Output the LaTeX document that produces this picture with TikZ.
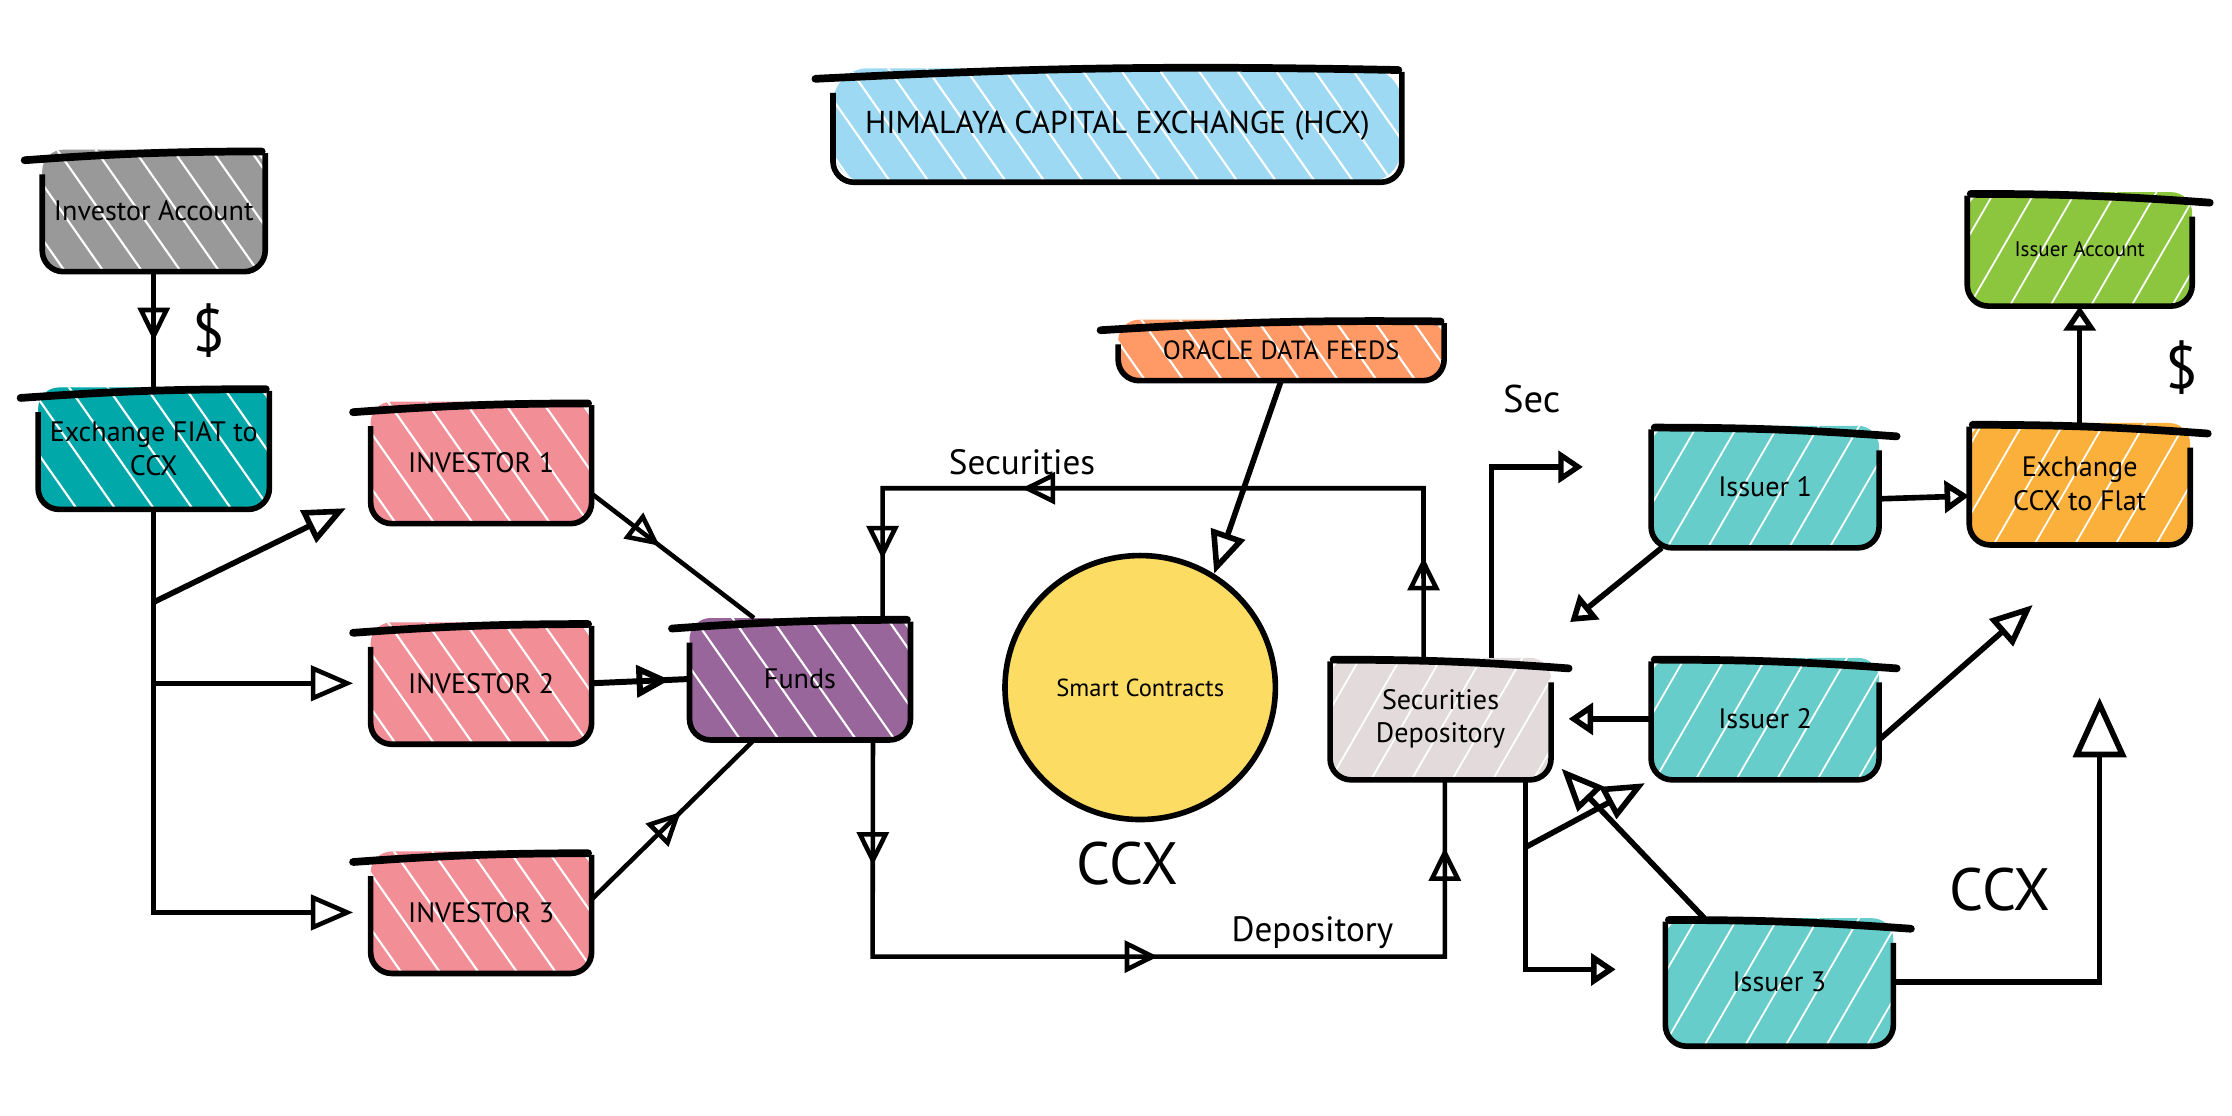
\documentclass[tikz,border=0pt]{standalone}
\usepackage{fontspec}
\setmainfont{PT Sans}
\usetikzlibrary{arrows.meta,decorations.markings,shapes.geometric,patterns.meta}

\definecolor{hcxblue}{HTML}{9DD9F3}
\definecolor{acctgray}{HTML}{999999}
\definecolor{fiatteal}{HTML}{00A8AA}
\definecolor{invpink}{HTML}{F28E96}
\definecolor{fundpurple}{HTML}{98669A}
\definecolor{smartyellow}{HTML}{FCDC63}
\definecolor{oracleorange}{HTML}{FF9A66}
\definecolor{depgray}{HTML}{E3DBDB}
\definecolor{issuerteal}{HTML}{66CDCB}
\definecolor{acctgreen}{HTML}{8CC63F}
\definecolor{ccxorange}{HTML}{FBB03B}

\tikzset{
  tipS/.tip={Triangle[open,length=7pt,width=9pt]},
  tipM/.tip={Triangle[open,length=9.5pt,width=9pt]},
  tipL/.tip={Triangle[open,length=12pt,width=10pt]},
  tipXL/.tip={Triangle[open,length=17pt,width=15pt]},
  boxbase/.style={line width=1.6pt, outer sep=0pt, rounded corners=6pt, minimum width=2.21cm,
    minimum height=1.22cm, align=center, font=\fontsize{8}{9.6}\selectfont},
  boxL/.style={boxbase, preaction={fill=#1},
    preaction={pattern={Lines[angle=-55,distance=9pt,line width=.6pt]}, pattern color=white}},
  boxR/.style={boxbase, preaction={fill=#1},
    preaction={pattern={Lines[angle=60,distance=10pt,line width=.5pt]}, pattern color=white}},
  rim/.style={line width=1.6pt, rounded corners=6pt},
  lid/.style={line width=2.2pt, line cap=round},
  lbl/.style={font=\fontsize{10}{12}\selectfont},
  biglbl/.style={font=\fontsize{17}{20}\selectfont},
  flow/.style={line width=1.3pt},
  midtri/.style={postaction={decorate,decoration={markings,mark=at position #1 with {\arrow{tipM}}}}},
}

\begin{document}
\begin{tikzpicture}[x=0.014235cm,y=-0.014235cm]
\useasboundingbox (0,0) rectangle (1568,784);

% boxes
\node[boxL=hcxblue, minimum width=5.69cm, minimum height=1.14cm, rounded corners=10pt,
  font=\fontsize{9}{11}\selectfont] (title) at (785,88) {HIMALAYA CAPITAL EXCHANGE (HCX)};
\node[boxL=acctgray] (invacct) at (108,148) {Investor Account};
\node[boxL=fiatteal] (fiat) at (108,315) {Exchange FIAT to\\CCX};
\node[boxL=invpink] (inv1) at (338,325) {INVESTOR 1};
\node[boxL=invpink] (inv2) at (338,480) {INVESTOR 2};
\node[boxL=invpink] (inv3) at (338,641) {INVESTOR 3};
\node[boxL=fundpurple] (funds) at (562,477) {Funds};
\node[draw, ellipse, line width=1.6pt, fill=smartyellow, minimum width=2.4cm, minimum height=2.64cm,
  font=\fontsize{7}{8}\selectfont] (smart) at (801,483) {Smart Contracts};
\node[boxL=oracleorange, minimum width=3.26cm, minimum height=0.61cm,
  font=\fontsize{7.5}{9}\selectfont] (oracle) at (900,246) {ORACLE DATA FEEDS};
\node[boxR=depgray] (secdep) at (1012,505) {Securities\\Depository};
\node[boxR=acctgreen, minimum width=2.25cm, minimum height=1.14cm,
  font=\fontsize{6}{7}\selectfont] (issacct) at (1461,175) {Issuer Account};
\node[boxR=issuerteal, minimum width=2.28cm] (iss1) at (1240,342) {Issuer 1};
\node[boxR=ccxorange] (ccxflat) at (1461,340) {Exchange\\CCX to Flat};
\node[boxR=issuerteal, minimum width=2.28cm] (iss2) at (1240,505) {Issuer 2};
\node[boxR=issuerteal, minimum width=2.28cm, minimum height=1.28cm] (iss3) at (1250,690) {Issuer 3};

% sketchy outlines: open corner plus an overhanging top stroke
\foreach \n in {title,invacct,fiat,inv1,inv2,inv3,funds,oracle}{
  \draw[rim] ([yshift=-7pt]\n.north west) -- (\n.south west) -- (\n.south east) -- ([yshift=-1pt]\n.north east);
  \draw[lid] ([xshift=-5pt,yshift=-3pt]\n.north west) to[bend left=2] ([xshift=-1pt,yshift=-0.5pt]\n.north east);
}
\foreach \n in {secdep,issacct,iss1,ccxflat,iss2,iss3}{
  \draw[rim] ([yshift=-7pt]\n.north east) -- (\n.south east) -- (\n.south west) -- ([yshift=-1pt]\n.north west);
  \draw[lid] ([xshift=1pt,yshift=-0.5pt]\n.north west) to[bend left=2] ([xshift=5pt,yshift=-3pt]\n.north east);
}

% labels
\node[biglbl] (dollarL) at (147,232) {\$};
\node[biglbl] (dollarR) at (1533,258) {\$};
\node[lbl] (secLbl) at (718,325) {Securities};
\node[lbl] (depLbl) at (922,655) {Depository};
\node[lbl, font=\fontsize{11}{13}\selectfont] (secShort) at (1076,280) {Sec};
\node[biglbl] (ccxMid) at (792,607) {CCX};
\node[biglbl] (ccxRight) at (1405,625) {CCX};

% corner and free-end points
\coordinate (br1) at (108,423);
\coordinate (tip1) at (243,357);
\coordinate (secTR) at (1000,343);
\coordinate (secTL) at (620,343);
\coordinate (depBL) at (613,672);
\coordinate (depBR) at (1015,672);
\coordinate (oracTip) at (853,403);
\coordinate (secTip) at (1112,328);
\coordinate (iss1Tip) at (1103,437);
\coordinate (iss2Tip) at (1428,425);
\coordinate (iss3Tip) at (1097,540);
\coordinate (depTip) at (1135,681);
\coordinate (br2) at (1072,595);
\coordinate (ccxTip) at (1475,490);

% investor side
\draw[flow, midtri=0.6] (invacct.south) -- (fiat.north);
\draw[flow, -{tipL}, shorten >=5pt] (fiat.south) |- (inv3.west);
\draw[flow, -{tipL}, shorten >=5pt] (fiat.south |- inv2.west) -- (inv2.west);
\draw[flow, line width=1.6pt, -{tipL}] (br1) -- (tip1);
\draw[flow, midtri=0.42] ([yshift=-0.31cm]inv1.east) -- ([xshift=-0.46cm]funds.north);
\draw[flow, line width=1.7pt, midtri=0.8] (inv2.east) -- (funds.west);
\draw[flow, midtri=0.55] ([yshift=0.13cm]inv3.east) -- ([xshift=-0.46cm]funds.south);

% securities and depository loops
\draw[flow, midtri=.12, midtri=.68, midtri=.93] ([xshift=-0.17cm]secdep.north) -- (secTR) -- (secTL) -- (secTL |- funds.north);
\draw[flow, midtri=.13, midtri=.52, midtri=.93] ([xshift=0.73cm]funds.south) -- (depBL) -- (depBR) -- (depBR |- secdep.south);
\draw[flow, line width=1.6pt, -{tipL}] (oracle.south) -- (oracTip);

% issuer side
\draw[flow, line width=1.5pt, -{tipS}] ([xshift=0.51cm]secdep.north) |- (secTip);
\draw[flow, line width=1.6pt, -{tipS}] ([yshift=-0.12cm]iss1.east) -- ([yshift=-0.12cm]ccxflat.west);
\draw[flow, line width=1.5pt, -{tipS}] (ccxflat.north) -- (issacct.south);
\draw[flow, line width=1.6pt, -{tipS}] ([xshift=3pt]iss1.south west) -- (iss1Tip);
\draw[flow, line width=1.6pt, -{tipS}, shorten >=5pt] (iss2.west) -- (secdep.east);
\draw[flow, line width=1.6pt, -{tipL}] ([yshift=-0.21cm]iss2.east) -- (iss2Tip);
\draw[flow, line width=1.6pt, -{tipL}] ([xshift=-0.75cm]iss3.north) -- (iss3Tip);
\draw[flow, line width=1.6pt, -{tipS}] ([xshift=0.85cm]secdep.south) |- (depTip);
\draw[flow, line width=1.6pt, -{tipL}, shorten >=2pt] (br2) -- (iss2.south west);
\draw[flow, line width=1.6pt, -{tipXL}] (iss3.east) -| (ccxTip);
\end{tikzpicture}
\end{document}
